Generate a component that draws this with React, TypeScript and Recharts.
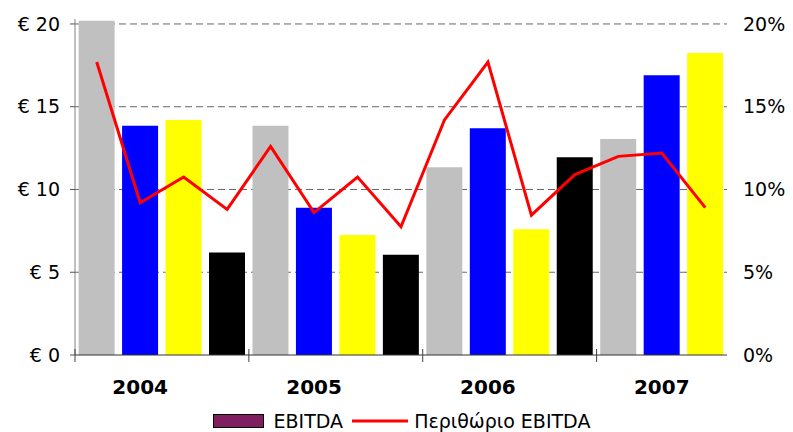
import { Bar, Line, XAxis, YAxis, CartesianGrid, Legend, Cell, ComposedChart } from 'recharts';

const quarters = [
  'Q1 2004', 'Q2 2004', 'Q3 2004', 'Q4 2004',
  'Q1 2005', 'Q2 2005', 'Q3 2005', 'Q4 2005',
  'Q1 2006', 'Q2 2006', 'Q3 2006', 'Q4 2006',
  'Q1 2007', 'Q2 2007', 'Q3 2007',
];
const years = ['2004', '2005', '2006', '2007'];
const ebitda = [20.2, 13.85, 14.2, 6.2, 13.85, 8.9, 7.25, 6.05, 11.35, 13.7, 7.6, 11.95, 13.05, 16.9, 18.25];
const marginPct = [17.7, 9.2, 10.75, 8.8, 12.6, 8.6, 10.75, 7.75, 14.2, 17.7, 8.45, 10.9, 12.0, 12.2, 8.9];
const quarterColors = ['#C0C0C0', '#0000FF', '#FFFF00', '#000000'];
const leftTicks = [0, 5, 10, 15, 20];
const rightTicks = [0, 5, 10, 15, 20];
const gridValues = [5, 10, 15, 20];

const FONT = '"DejaVu Sans", Verdana, sans-serif';

const data = quarters.map((q, i) => ({ q, ebitda: ebitda[i], margin: marginPct[i] }));

// year labels sit under the 2nd bar of each group; tick marks at group starts
function YearTick(props: any) {
  const { x, y, payload } = props;
  const i = props.index ?? payload.index;
  if (i % 4 !== 0) return <g />;
  const band = payload.offset ? payload.offset * 2 : 652 / 15;
  const left = x - band / 2;
  return (
    <g>
      <line x1={left} x2={left} y1={y - 6} y2={y + 7} stroke="#404040" strokeWidth={1} />
      <text
        x={left + band * 1.5}
        y={y + 32}
        textAnchor="middle"
        dominantBaseline="central"
        fontFamily={FONT}
        fontWeight="bold"
        fontSize={20}
        fill="#000"
      >
        {years[i / 4]}
      </text>
    </g>
  );
}

function renderLegend() {
  return (
    <div style={{ position: 'relative', top: 5, display: 'flex', justifyContent: 'center', alignItems: 'center', fontFamily: FONT, fontSize: 19, color: '#000', height: 33, paddingLeft: 10 }}>
      <span style={{ display: 'inline-block', width: 49, height: 12, background: '#7F1F5F', border: '1px solid #000' }} />
      <span style={{ marginLeft: 10 }}>EBITDA</span>
      <svg width={56} height={10} style={{ marginLeft: 9, marginRight: 6 }}>
        <line x1={0} x2={56} y1={5} y2={5} stroke="#FF0000" strokeWidth={3} />
      </svg>
      <span>Περιθώριο EBITDA</span>
    </div>
  );
}

export default function App() {
  return (
    <div style={{ position: 'absolute', left: 0, top: 0, width: 793, height: 432, background: '#fff' }}>
      <ComposedChart
        width={793}
        height={432}
        data={data}
        margin={{ top: 19, right: 0, bottom: 0, left: 0 }}
        barCategoryGap="8.3%"
      >
        <CartesianGrid
          vertical={false}
          stroke="#666"
          strokeDasharray="7 4"
          yAxisId="left"
          horizontalValues={gridValues}
        />
        <XAxis
          dataKey="q"
          interval={0}
          height={44}
          tickLine={false}
          tickSize={0}
          tickMargin={0}
          axisLine={{ stroke: '#333' }}
          tick={<YearTick />}
        />
        <YAxis
          yAxisId="left"
          width={75}
          domain={[0, 20.3]}
          ticks={leftTicks}
          tickFormatter={(v: number) => `€ ${v}`}
          tickSize={5}
          tickMargin={10}
          axisLine={{ stroke: '#808080' }}
          tickLine={{ stroke: '#555' }}
          tick={{ fill: '#000', fontSize: 19, fontFamily: FONT }}
        />
        <YAxis
          yAxisId="right"
          orientation="right"
          width={66}
          domain={[0, 20.3]}
          ticks={rightTicks}
          tickFormatter={(v: number) => `${v}%`}
          axisLine={false}
          tickLine={false}
          tickSize={0}
          tickMargin={16}
          tick={{ fill: '#000', fontSize: 19, fontFamily: FONT, textAnchor: 'start' }}
        />
        <Legend verticalAlign="bottom" height={33} content={renderLegend} />
        <Bar yAxisId="left" dataKey="ebitda" name="EBITDA" fill="#7F1F5F" isAnimationActive={false}>
          {data.map((d, i) => (
            <Cell key={d.q} fill={quarterColors[i % 4]} />
          ))}
        </Bar>
        <Line
          yAxisId="right"
          dataKey="margin"
          name="Περιθώριο EBITDA"
          type="linear"
          stroke="#FF0000"
          strokeWidth={3}
          dot={false}
          isAnimationActive={false}
        />
      </ComposedChart>
    </div>
  );
}
